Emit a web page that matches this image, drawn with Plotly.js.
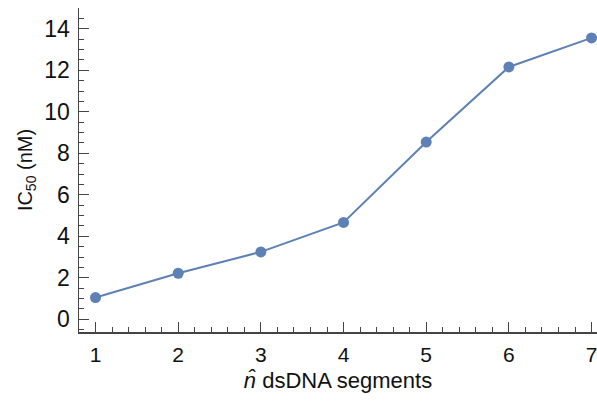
<!DOCTYPE html>
<html><head><meta charset="utf-8">
<script src="https://cdn.plot.ly/plotly-3.0.1.min.js"></script>
<style>html,body{margin:0;padding:0;background:#fff}#c{width:597px;height:403px}</style>
</head><body><div id="c"></div>
<script>
var segments = [1, 2, 3, 4, 5, 6, 7];
var ic50 = [1.05, 2.22, 3.25, 4.67, 8.54, 12.16, 13.56];
var xTickVals = [1, 2, 3, 4, 5, 6, 7];
var yTickVals = [0, 2, 4, 6, 8, 10, 12, 14];

var col = '#5E81B5';
var axisCol = '#444';
var trace = {
  x: segments, y: ic50, mode: 'lines+markers', type: 'scatter',
  line: {color: col, width: 2},
  marker: {color: col, size: 11},
  cliponaxis: false, hoverinfo: 'none'
};
var layout = {
  width: 597, height: 403,
  margin: {l: 79, r: 0, t: 8, b: 71, pad: 0},
  paper_bgcolor: '#fff', plot_bgcolor: '#fff',
  showlegend: false,
  font: {family: 'Liberation Sans, Arial, sans-serif', color: '#111'},
  xaxis: {
    range: [0.8, 7.066], showgrid: false, zeroline: false,
    showline: true, linecolor: axisCol, linewidth: 1.5,
    ticks: 'inside', ticklen: 10, tickwidth: 1.2, tickcolor: axisCol,
    tickvals: xTickVals, ticktext: xTickVals.map(String),
    tickfont: {size: 21, color: '#111'},
    ticklabeloverflow: 'allow',
    ticklabelstandoff: 3,
    minor: {dtick: 0.2, tick0: 0, ticks: 'inside', ticklen: 5, tickwidth: 1, tickcolor: axisCol, showgrid: false},
    title: {text: '<i>n̂</i> dsDNA segments', font: {size: 22, color: '#111'}, standoff: 8}
  },
  yaxis: {
    range: [-0.61, 15.0], showgrid: false, zeroline: false,
    showline: true, linecolor: axisCol, linewidth: 1.5,
    ticks: 'inside', ticklen: 10, tickwidth: 1.2, tickcolor: axisCol,
    tickvals: yTickVals, ticktext: yTickVals.map(String),
    tickfont: {size: 23, color: '#111'},
    ticklabelstandoff: 3,
    minor: {dtick: 0.5, tick0: 0, ticks: 'inside', ticklen: 5, tickwidth: 1, tickcolor: axisCol, showgrid: false},
    title: {text: 'IC<sub>50</sub> (nM)', font: {size: 20, color: '#111'}, standoff: 6}
  }
};
Plotly.newPlot('c', [trace], layout, {staticPlot: true, displayModeBar: false});
</script></body></html>
